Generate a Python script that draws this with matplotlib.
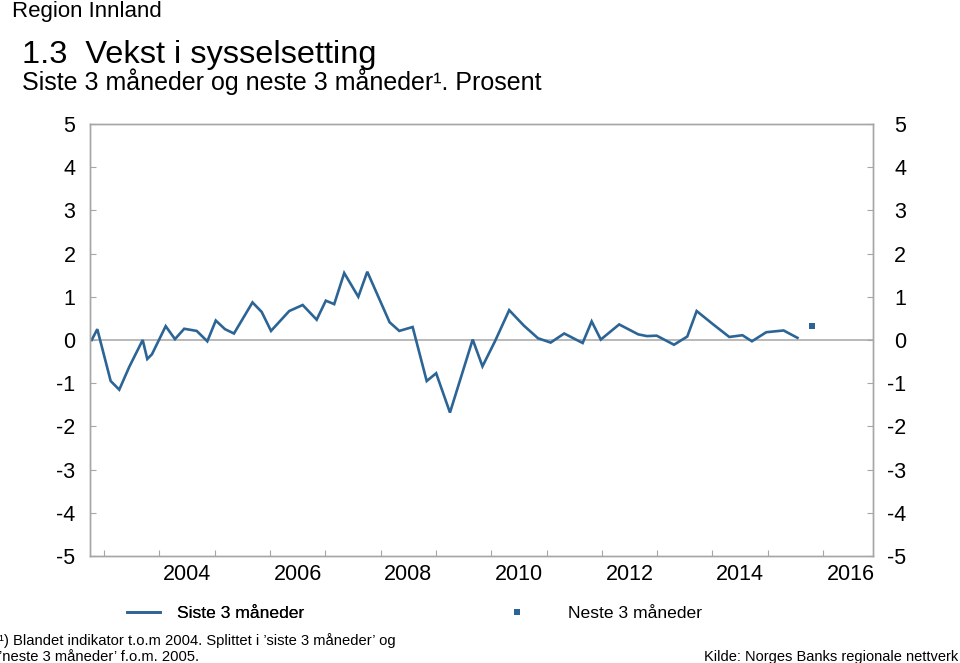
import matplotlib
matplotlib.use('Agg')
import matplotlib.pyplot as plt
from matplotlib.lines import Line2D

plt.rcParams['font.family'] = ['Liberation Sans', 'DejaVu Sans']

# survey rounds (decimal year) and employment growth, last 3 months
dates = [2002.774, 2002.875, 2003.117, 2003.272, 2003.454, 2003.696, 2003.779, 2003.864,
         2004.112, 2004.280, 2004.447, 2004.673, 2004.865, 2005.018, 2005.185, 2005.347,
         2005.682, 2005.848, 2006.017, 2006.346, 2006.590, 2006.843, 2007.008, 2007.160,
         2007.341, 2007.596, 2007.758, 2008.162, 2008.337, 2008.579, 2008.833, 2009.004,
         2009.254, 2009.665, 2009.842, 2010.068, 2010.325, 2010.593, 2010.846, 2011.075,
         2011.320, 2011.654, 2011.817, 2011.982, 2012.314, 2012.660, 2012.817, 2012.993,
         2013.306, 2013.546, 2013.716, 2014.016, 2014.306, 2014.544, 2014.716, 2014.975,
         2015.289, 2015.539]
siste = [0.0, 0.25, -0.95, -1.15, -0.62, 0.0, -0.44, -0.33,
         0.32, 0.02, 0.26, 0.21, -0.03, 0.45, 0.25, 0.15,
         0.87, 0.65, 0.21, 0.67, 0.81, 0.47, 0.91, 0.83,
         1.55, 1.0, 1.58, 0.41, 0.21, 0.3, -0.95, -0.77,
         -1.68, 0.01, -0.61, -0.03, 0.69, 0.33, 0.04, -0.06,
         0.15, -0.07, 0.43, 0.01, 0.36, 0.13, 0.09, 0.1,
         -0.11, 0.08, 0.67, 0.36, 0.07, 0.11, -0.03, 0.18,
         0.22, 0.05]

# expected growth, next 3 months
neste_date = [2015.796]
neste = [0.33]

year_ticks = list(range(2003, 2017))
label_years = [2004, 2006, 2008, 2010, 2012, 2014, 2016]
y_ticks = list(range(-5, 6))

blue = '#2c6595'
grey = '#a6a6a6'

fig = plt.figure(figsize=(9.6, 6.63), dpi=100)
ax = fig.add_axes([0.09375, 0.1614, 0.8156, 0.6516])

ax.plot(dates, siste, color=blue, lw=1.9, solid_joinstyle='miter')
ax.plot(neste_date, neste, 's', color=blue, ms=4.5, mew=0)
ax.axhline(0, color=grey, lw=1.1, zorder=0)

ax.set_xlim(2002.743, 2016.905)
ax.set_ylim(-5, 5)

for s in ax.spines.values():
    s.set_color(grey)
    s.set_linewidth(1.0)

ax.set_xticks(year_ticks)
ax.set_xticklabels([])
ax.set_xticks([y + 0.5 for y in label_years], minor=True)
ax.set_xticklabels([str(y) for y in label_years], minor=True, fontsize=15.5)
ax.tick_params(axis='x', which='major', direction='in', length=4, color=grey, top=False)
ax.tick_params(axis='x', which='minor', length=0, pad=6)

ax.set_yticks(y_ticks)
ax.set_yticklabels([str(v) for v in y_ticks], fontsize=15.5)
ax.tick_params(axis='y', direction='in', length=4.5, color=grey, pad=10.5)

ax2 = ax.twinx()
ax2.set_ylim(-5, 5)
ax2.set_yticks(y_ticks)
ax2.set_yticklabels([str(v) for v in y_ticks], fontsize=15.5)
ax2.tick_params(axis='y', direction='in', length=4.5, color=grey, pad=24)
for lab in ax2.get_yticklabels():
    lab.set_horizontalalignment('right')
for s in ax2.spines.values():
    s.set_color(grey)
    s.set_linewidth(1.0)

# titles
fig.text(12 / 960, 1 - 17 / 663, 'Region Innland', fontsize=16, va='baseline')
fig.text(22 / 960, 1 - 63 / 663, '1.3  Vekst i sysselsetting', fontsize=23.4, va='baseline')
fig.text(22 / 960, 1 - 90 / 663, 'Siste 3 måneder og neste 3 måneder¹. Prosent',
         fontsize=18, va='baseline')

# legend, two separate entries
h1 = Line2D([], [], color=blue, lw=1.9)
h2 = Line2D([], [], color=blue, marker='s', ls='none', ms=4.5, mew=0)
leg1 = fig.legend([h1], ['Siste 3 måneder'], loc='center left',
                  bbox_to_anchor=(127 / 960, 1 - 613 / 663), frameon=False,
                  borderpad=0, borderaxespad=0, handlelength=1.9, handletextpad=0.95,
                  fontsize=12.6)
leg2 = fig.legend([h2], ['Neste 3 måneder'], loc='center left',
                  bbox_to_anchor=(500 / 960, 1 - 613 / 663), frameon=False,
                  borderpad=0, borderaxespad=0, handlelength=1.9, handletextpad=2.0,
                  numpoints=1, fontsize=12.6)
fig.add_artist(leg1)

# footnotes
fig.text(-1 / 960, 1 - 645 / 663,
         '¹) Blandet indikator t.o.m 2004. Splittet i ’siste 3 måneder’ og',
         fontsize=10.6, va='baseline')
fig.text(-1 / 960, 1 - 661 / 663, '’neste 3 måneder’ f.o.m. 2005.',
         fontsize=10.6, va='baseline')
fig.text(958 / 960, 1 - 661 / 663, 'Kilde: Norges Banks regionale nettverk',
         fontsize=10.5, va='baseline', ha='right')

fig.savefig('out.png', dpi=100)
